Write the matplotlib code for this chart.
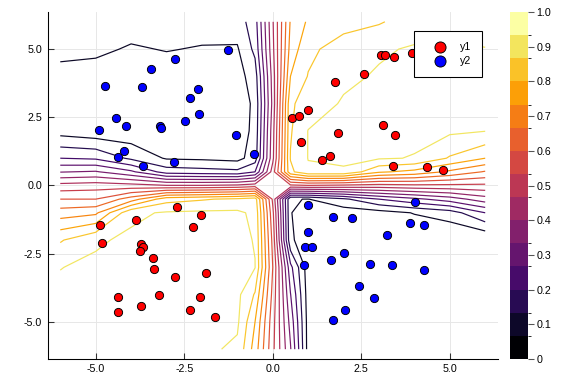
import numpy as np
import matplotlib
matplotlib.use("Agg")
import matplotlib.pyplot as plt
from matplotlib.colors import ListedColormap, BoundaryNorm, Normalize
from matplotlib.cm import ScalarMappable

plt.rcParams["font.family"] = ["Liberation Sans", "DejaVu Sans"]

# probability surface (class y1), on a coarse grid
grid_x = [-6, -5, -4, -3, -2, -1, -0.5, 0, 0.5, 1, 2, 3, 4, 5, 6]
grid_y = [6, 5, 4, 3, 2, 1, 0.5, 0, -0.5, -1, -2, -3, -4, -5, -6]
prob = [
    [0.09, 0.09, 0.095, 0.095, 0.095, 0.10, 0.17, 0.46, 0.74, 0.81, 0.84, 0.86, 0.90, 0.915, 0.91],
    [0.09, 0.08, 0.06, 0.07, 0.062, 0.06, 0.15, 0.45, 0.76, 0.85, 0.90, 0.925, 0.94, 0.94, 0.935],
    [0.04, 0.04, 0.035, 0.035, 0.035, 0.04, 0.10, 0.43, 0.80, 0.87, 0.92, 0.94, 0.95, 0.95, 0.945],
    [0.035, 0.03, 0.03, 0.03, 0.03, 0.03, 0.08, 0.42, 0.855, 0.90, 0.94, 0.95, 0.955, 0.95, 0.945],
    [0.038, 0.02, 0.02, 0.02, 0.025, 0.03, 0.085, 0.44, 0.86, 0.935, 0.945, 0.95, 0.95, 0.945, 0.935],
    [0.20, 0.19, 0.12, 0.06, 0.055, 0.045, 0.10, 0.45, 0.87, 0.935, 0.945, 0.94, 0.93, 0.86, 0.80],
    [0.33, 0.34, 0.28, 0.17, 0.16, 0.15, 0.20, 0.50, 0.85, 0.925, 0.925, 0.81, 0.78, 0.72, 0.66],
    [0.49, 0.50, 0.49, 0.47, 0.47, 0.48, 0.50, 0.50, 0.52, 0.53, 0.52, 0.51, 0.52, 0.52, 0.52],
    [0.60, 0.60, 0.70, 0.84, 0.86, 0.88, 0.90, 0.52, 0.07, 0.065, 0.12, 0.20, 0.25, 0.30, 0.37],
    [0.70, 0.72, 0.92, 0.94, 0.945, 0.945, 0.92, 0.55, 0.07, 0.03, 0.03, 0.04, 0.07, 0.10, 0.20],
    [0.86, 0.925, 0.945, 0.95, 0.95, 0.95, 0.93, 0.58, 0.08, 0.02, 0.02, 0.02, 0.01, 0.0, 0.0],
    [0.932, 0.945, 0.95, 0.955, 0.955, 0.95, 0.935, 0.60, 0.22, 0.03, 0.02, 0.02, 0.02, 0.02, 0.02],
    [0.945, 0.95, 0.955, 0.955, 0.955, 0.95, 0.86, 0.58, 0.27, 0.035, 0.02, 0.02, 0.02, 0.02, 0.02],
    [0.95, 0.95, 0.955, 0.955, 0.95, 0.945, 0.80, 0.56, 0.31, 0.04, 0.02, 0.02, 0.02, 0.02, 0.02],
    [0.95, 0.95, 0.95, 0.95, 0.95, 0.92, 0.77, 0.55, 0.34, 0.04, 0.03, 0.02, 0.02, 0.02, 0.02],
]

# scatter points
y1_x = [1.75, 3.05, 3.17, 3.42, 3.92, 2.57, 0.99, 0.54, 0.75, 0.80, 1.85, 3.11, 3.44,
        1.39, 1.61, 3.41, 4.36, 4.81,
        -2.71, -2.03, -2.24, -4.87, -3.86, -4.83, -3.71, -3.65, -3.75, -3.38, -3.35,
        -2.77, -1.88, -4.37, -3.20, -2.05, -3.73, -4.36, -2.34, -1.62]
y1_y = [3.81, 4.77, 4.79, 4.70, 4.87, 4.07, 2.75, 2.49, 2.54, 1.61, 1.92, 2.20, 1.86,
        0.93, 1.09, 0.72, 0.66, 0.56,
        -0.79, -1.08, -1.51, -1.44, -1.28, -2.10, -2.16, -2.26, -2.40, -2.65, -3.05,
        -3.37, -3.20, -4.10, -4.02, -4.09, -4.41, -4.64, -4.55, -4.82]
y2_x = [-1.25, -2.77, -3.43, -4.73, -3.68, -2.10, -2.33, -4.43, -2.07, -2.48, -4.15,
        -3.19, -3.15, -4.91, -1.03, -4.21, -4.37, -3.66, -2.79, -0.52,
        0.99, 4.03, 1.69, 2.25, 3.88, 4.26, 1.00, 3.24, 0.92, 1.12, 2.00, 1.64, 0.89,
        2.74, 3.37, 4.28, 2.44, 2.87, 2.03, 1.69]
y2_y = [4.98, 4.63, 4.27, 3.64, 3.62, 3.53, 3.22, 2.48, 2.63, 2.38, 2.19,
        2.19, 2.11, 2.02, 1.85, 1.25, 1.03, 0.71, 0.87, 1.15,
        -0.71, -0.59, -1.17, -1.18, -1.37, -1.43, -1.72, -1.83, -2.25, -2.25, -2.49, -2.72, -2.90,
        -2.88, -2.90, -3.09, -3.70, -4.14, -4.58, -4.94]

levels = np.arange(1, 15) / 15
axis_ticks = [-5, -2.5, 0, 2.5, 5]
cbar_ticks = [0, 0.1, 0.2, 0.3, 0.4, 0.5, 0.6, 0.7, 0.8, 0.9, 1.0]
cbar_labels = ["0", "0.1", "0.2", "0.3", "0.4", "0.5", "0.6", "0.7", "0.8", "0.9", "1.0"]

fig = plt.figure(figsize=(6, 4), dpi=96)
ax = fig.add_axes([0.0825, 0.0651, 0.782, 0.9037])
cax = fig.add_axes([0.8854, 0.0651, 0.0304, 0.9036])

Z = np.array(prob)[::-1]
gy = np.array(grid_y)[::-1]
ax.contour(grid_x, gy, Z, levels=levels, cmap="inferno",
           norm=Normalize(0, 1), linewidths=0.9, zorder=2)

ax.scatter(y1_x, y1_y, s=38, c="#ff0000", edgecolors="black", linewidths=0.7,
           label="y1", zorder=3)
ax.scatter(y2_x, y2_y, s=38, c="#0000ff", edgecolors="black", linewidths=0.7,
           label="y2", zorder=3)

ax.set_xlim(-6.36, 6.36)
ax.set_ylim(-6.36, 6.36)
ax.set_xticks(axis_ticks)
ax.set_yticks(axis_ticks)
ax.set_xticklabels([f"{t:.1f}" for t in axis_ticks])
ax.set_yticklabels([f"{t:.1f}" for t in axis_ticks])
ax.grid(True, color="#e6e6e6", linewidth=0.7)
ax.set_axisbelow(True)
for s in ("top", "right"):
    ax.spines[s].set_visible(False)
for s in ("left", "bottom"):
    ax.spines[s].set_linewidth(0.8)
ax.tick_params(direction="in", length=4.5, width=0.8, color="#333333",
               labelsize=8, pad=4)

leg = ax.legend(loc="upper right", bbox_to_anchor=(0.9647, 0.945), fontsize=8,
                fancybox=False, edgecolor="black", framealpha=1,
                markerscale=1.35, handletextpad=0.45, borderpad=1.0,
                handlelength=2.9, labelspacing=0.4, borderaxespad=0)
leg.get_frame().set_linewidth(0.8)
leg.set_zorder(5)

cmap15 = ListedColormap(plt.cm.inferno(np.linspace(0, 1, 15)))
bnorm = BoundaryNorm(np.linspace(0, 1, 16), 15)
cb = fig.colorbar(ScalarMappable(norm=bnorm, cmap=cmap15), cax=cax, ticks=cbar_ticks)
cb.outline.set_visible(False)
cb.ax.set_yticklabels(cbar_labels)
cb.ax.tick_params(length=4.5, width=0.8, color="#555555", labelsize=8, pad=2)

fig.savefig("out.png", dpi=96)
